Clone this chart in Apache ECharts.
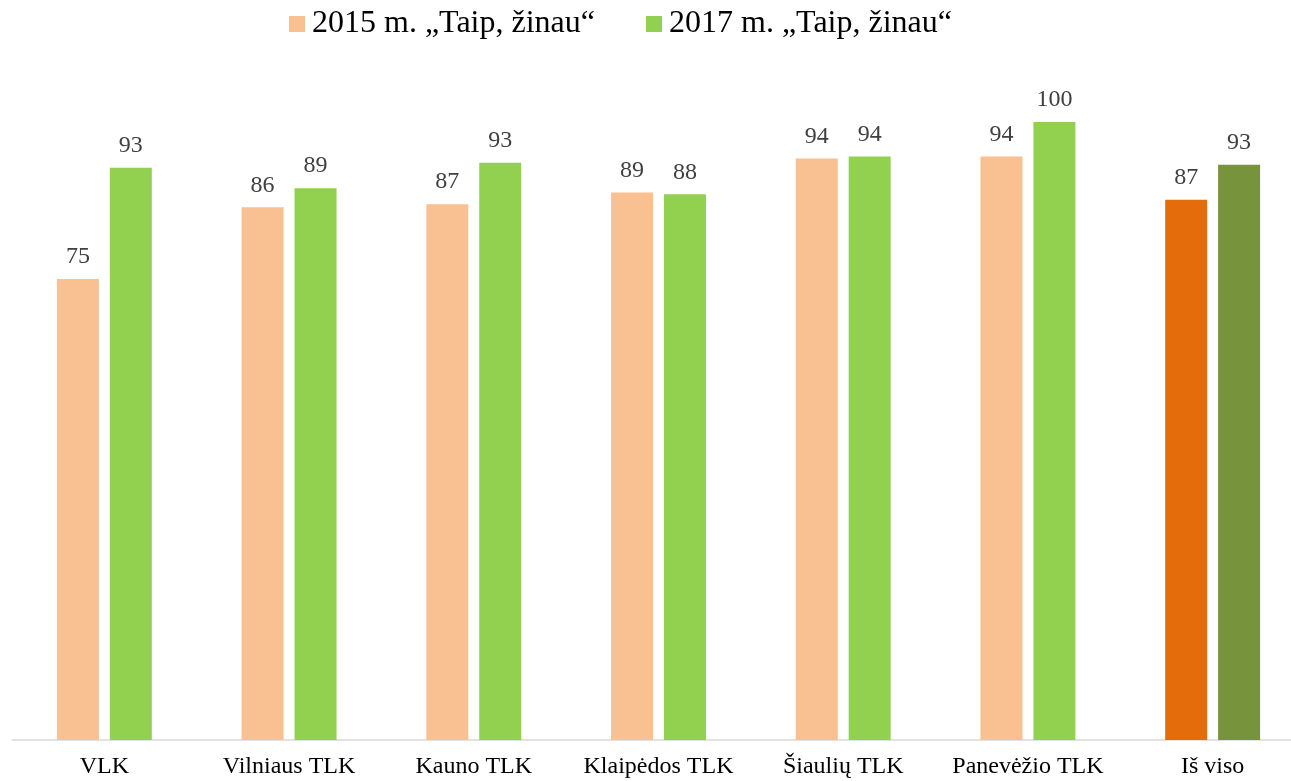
<!DOCTYPE html>
<html lang="lt">
<head>
    <meta charset="UTF-8">
    <title>Taip, žinau</title>
    <script src="https://cdn.jsdelivr.net/npm/echarts@6/dist/echarts.min.js"></script>
    <style>
        html, body { margin: 0; padding: 0; background: #fff; overflow: hidden; }
        /* a bit wider than the window: the last category runs past the right edge */
        #main { width: 1310px; height: 781px; }
    </style>
</head>
<body>
<div id="main"></div>
<script type="text/javascript">
    // duomenys
    var categories = ['VLK', 'Vilniaus TLK', 'Kauno TLK', 'Klaipėdos TLK', 'Šiaulių TLK', 'Panevėžio TLK', 'Iš viso'];
    var seriesNames = ['2015 m. „Taip, žinau“', '2017 m. „Taip, žinau“'];
    var values2015 = [74.6, 86.2, 86.7, 88.6, 94.1, 94.4, 87.4];
    var values2017 = [92.6, 89.3, 93.4, 88.3, 94.4, 100, 93.1];

    var font = '"Liberation Serif", "Times New Roman", serif';
    var lightColors = ['#F9C091', '#92D050'];
    var darkColors = ['#E46C0A', '#77933C'];
    var totalIndex = categories.length - 1;

    function makeData(vals, s) {
        return vals.map(function (v, i) {
            return {
                value: v,
                itemStyle: { color: i === totalIndex ? darkColors[s] : lightColors[s] }
            };
        });
    }

    function makeSeries(vals, s) {
        return {
            name: seriesNames[s],
            type: 'bar',
            barWidth: 42,
            barGap: '26%',
            itemStyle: { color: lightColors[s] },
            label: {
                show: true,
                position: 'top',
                distance: 10,
                fontFamily: font,
                fontSize: 24,
                color: '#404040',
                formatter: function (p) { return Math.round(p.value); }
            },
            data: makeData(vals, s)
        };
    }

    var myChart = echarts.init(document.getElementById('main'));
    var option = {
        animation: false,
        legend: {
            top: 3,
            left: 284,
            itemWidth: 16,
            itemHeight: 16,
            itemGap: 51,
            icon: 'rect',
            textStyle: {
                fontFamily: font,
                fontSize: 32,
                color: '#000',
                padding: [0, 0, 0, 2]
            },
            data: seriesNames
        },
        grid: {
            left: 12,
            right: 5,
            top: 122,
            bottom: 41
        },
        xAxis: {
            type: 'category',
            data: categories,
            axisLine: { lineStyle: { color: '#D9D9D9', width: 1.5 } },
            axisTick: { show: false },
            axisLabel: {
                margin: 15,
                fontFamily: font,
                fontSize: 24,
                color: '#000',
                interval: 0
            }
        },
        yAxis: {
            type: 'value',
            min: 0,
            max: 100,
            show: false,
            splitLine: { show: false }
        },
        series: [
            makeSeries(values2015, 0),
            makeSeries(values2017, 1)
        ]
    };
    option && myChart.setOption(option);
</script>
</body>
</html>
